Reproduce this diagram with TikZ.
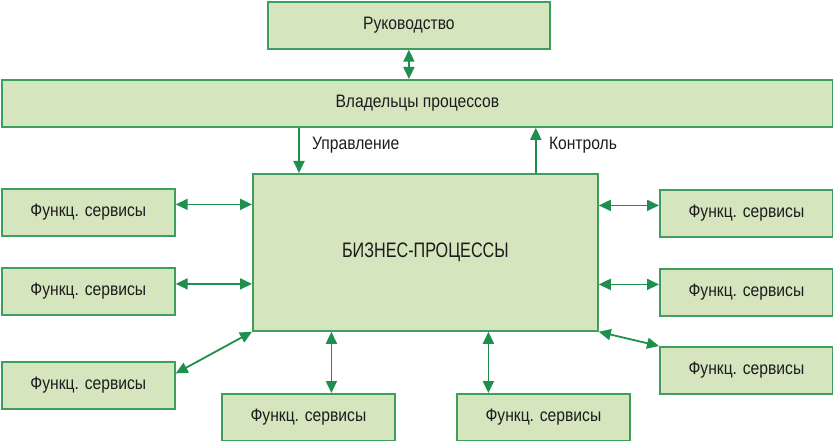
\documentclass[tikz,border=0pt]{standalone}
\usepackage{fontspec}
\setmainfont[FakeStretch=0.87]{Liberation Sans}
\newfontfamily\bizfont[FakeStretch=0.77]{Liberation Sans}
\usetikzlibrary{positioning}
\usetikzlibrary{arrows.meta}
\definecolor{boxfillc}{HTML}{D5E6BE}
\definecolor{boxdrawc}{HTML}{3E9E5E}
\definecolor{arrowc}{HTML}{1F8F4E}
\definecolor{textc}{HTML}{1C1C1C}

\tikzset{
  procbox/.style={anchor=north west, draw=boxdrawc, line width=1.8pt, fill=boxfillc,
    shape=rectangle, inner sep=0pt, text=textc, font=\fontsize{18}{20}\selectfont},
  funcbox/.style={procbox, minimum width=173pt, minimum height=47pt},
  biarrow/.style={draw=arrowc, line width=1.8pt,
    {Triangle[length=12pt,width=11pt]}-{Triangle[length=12pt,width=11pt]}},
  onearrow/.style={draw=arrowc, line width=1.8pt, -{Triangle[length=12pt,width=11pt]}},
  arrlabel/.style={anchor=west, inner sep=0pt, text=textc, font=\fontsize{18}{20}\selectfont}
}

\begin{document}
\begin{tikzpicture}[x=1pt,y=-1pt]
\useasboundingbox (0,0) rectangle (833,441);

\node[procbox, minimum width=282pt, minimum height=47pt]
(ruk) at (267,0.9) {Руководство};
\node[procbox, minimum width=831.2pt, minimum height=47pt]
(vlad) at (0.9,79) {Владельцы процессов};
\node[procbox, minimum width=345pt, minimum height=157pt, font=\bizfont\fontsize{21}{23}\selectfont]
(biz) at (252,173) {БИЗНЕС-ПРОЦЕССЫ};

% left column
\node[funcbox] (left1) at (0.9,188) {Функц. сервисы};
\node[funcbox] (left2) at (0.9,267) {Функц. сервисы};
\node[funcbox] (left3) at (0.9,361) {Функц. сервисы};
% right column
\node[funcbox] (right1) at (659,189) {Функц. сервисы};
\node[funcbox] (right2) at (659,268) {Функц. сервисы};
\node[funcbox] (right3) at (659,346) {Функц. сервисы};
% bottom row
\node[funcbox] (bottom1) at (221,393) {Функц. сервисы};
\node[funcbox] (bottom2) at (456,393) {Функц. сервисы};

\draw[biarrow] (ruk.south) -- (ruk.south |- vlad.north);

\coordinate (upr) at ([xshift=47pt]biz.north west);
\coordinate (kontr) at ([xshift=-63pt]biz.north east);
\draw[onearrow] (vlad.south -| upr) -- (upr);
\draw[onearrow] (kontr) -- (vlad.south -| kontr);
\node[arrlabel] at ([xshift=13pt,yshift=28pt]upr) {Управление};
\node[arrlabel] at ([xshift=13pt,yshift=28pt]kontr) {Контроль};

\draw[biarrow] ([yshift=8pt]left1.east) -- ([yshift=8pt]left1.east -| biz.west);
\draw[biarrow] ([yshift=7.5pt]left2.east) -- ([yshift=7.5pt]left2.east -| biz.west);
\draw[biarrow] ([yshift=12pt]left3.east) -- (biz.south west);
\draw[biarrow] ([yshift=8pt]right1.west -| biz.east) -- ([yshift=8pt]right1.west);
\draw[biarrow] ([yshift=8pt]right2.west -| biz.east) -- ([yshift=8pt]right2.west);
\draw[biarrow] (biz.south east) -- (right3.north west);
\draw[biarrow] ([xshift=23pt]bottom1.north |- biz.south) -- ([xshift=23pt]bottom1.north);
\draw[biarrow] ([xshift=-55pt]bottom2.north |- biz.south) -- ([xshift=-55pt]bottom2.north);

\end{tikzpicture}
\end{document}
